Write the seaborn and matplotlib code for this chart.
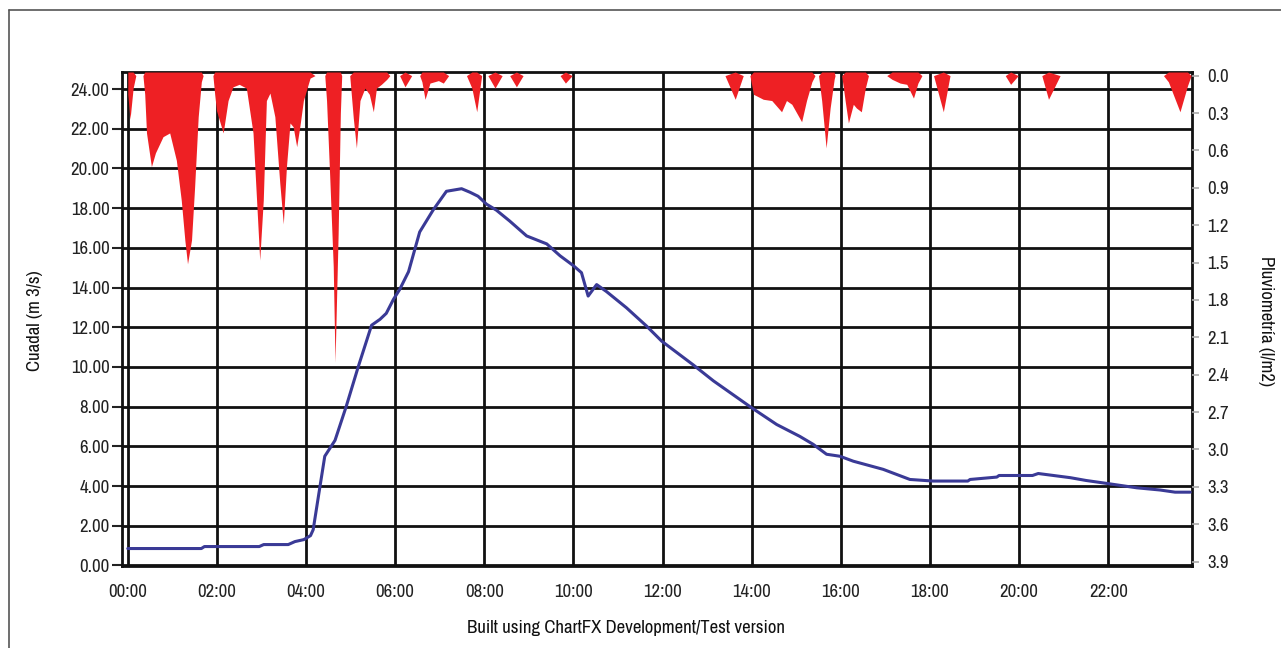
import numpy as np
import pandas as pd
import matplotlib
matplotlib.use("Agg")
import matplotlib.pyplot as plt
from matplotlib.lines import Line2D
from matplotlib import font_manager as fm
import seaborn as sns

# ---------------- data ----------------
flow_hours = [0.0, 1.65, 1.72, 2.95, 3.05, 3.6, 3.75, 3.95, 4.1, 4.16, 4.3, 4.42,
              4.65, 4.9, 5.17, 5.47, 5.66, 5.8, 5.96, 6.1, 6.3, 6.55, 6.85, 7.15,
              7.49, 7.68, 7.86, 8.05, 8.27, 8.57, 8.95, 9.4, 9.7, 10.0, 10.18,
              10.25, 10.33, 10.52, 10.74, 11.19, 11.64, 11.98, 12.69, 13.14,
              14.0, 14.56, 15.08, 15.38, 15.68, 15.98, 16.28, 16.95, 17.55,
              18.07, 18.85, 18.9, 19.5, 19.55, 20.3, 20.43, 21.15, 21.5, 21.97,
              22.64, 23.16, 23.5, 23.84]
flow_values = [0.85, 0.85, 0.95, 0.95, 1.05, 1.05, 1.2, 1.3, 1.5, 1.8, 3.8, 5.5,
               6.3, 8.0, 10.0, 12.1, 12.4, 12.7, 13.4, 13.9, 14.8, 16.8, 17.9,
               18.85, 18.98, 18.8, 18.6, 18.2, 17.9, 17.35, 16.6, 16.2, 15.6,
               15.1, 14.75, 14.2, 13.57, 14.15, 13.8, 12.98, 12.06, 11.3, 10.1,
               9.3, 7.94, 7.1, 6.5, 6.1, 5.6, 5.5, 5.25, 4.84, 4.33, 4.25, 4.25,
               4.33, 4.45, 4.53, 4.53, 4.63, 4.42, 4.28, 4.13, 3.91, 3.8, 3.69,
               3.69]

rain_hours = [0.00, 0.05, 0.12, 0.18, 0.34, 0.38, 0.42, 0.53, 0.62, 0.79, 0.94,
              1.09, 1.20, 1.28, 1.34, 1.43, 1.50, 1.58, 1.65, 1.69, 1.91, 1.95,
              1.99, 2.14, 2.25, 2.36, 2.50, 2.66, 2.81, 2.89, 2.96, 3.04, 3.11,
              3.19, 3.30, 3.41, 3.49, 3.56, 3.64, 3.71, 3.79, 3.86, 3.94, 4.09,
              4.20, 4.42, 4.46, 4.53, 4.61, 4.65, 4.72, 4.77, 4.80, 4.98, 5.06,
              5.13, 5.21, 5.32, 5.42, 5.51, 5.58, 5.69, 5.81, 5.88, 6.10, 6.22,
              6.37, 6.55, 6.60, 6.67, 6.78, 6.97, 7.08, 7.20, 7.60, 7.72, 7.83,
              7.94, 8.08, 8.24, 8.40, 8.57, 8.72, 8.87, 9.70, 9.82, 9.97, 13.40,
              13.63, 13.81, 13.96, 14.04, 14.26, 14.45, 14.67, 14.78, 14.90,
              15.12, 15.23, 15.35, 15.42, 15.50, 15.57, 15.67, 15.76, 15.85,
              15.87, 16.02, 16.10, 16.17, 16.28, 16.35, 16.46, 16.55, 16.62,
              17.03, 17.15, 17.33, 17.48, 17.63, 17.73, 17.82, 18.08, 18.30,
              18.45, 19.69, 19.81, 19.98, 20.51, 20.66, 20.92, 23.24, 23.35,
              23.61, 23.78, 23.86]
rain_values = [0.15, 0.35, 0.10, 0.0, 0.0, 0.15, 0.46, 0.73, 0.62, 0.49, 0.46,
               0.68, 1.0, 1.32, 1.51, 1.32, 0.89, 0.33, 0.05, 0.0, 0.0, 0.15,
               0.28, 0.46, 0.2, 0.09, 0.07, 0.1, 0.46, 1.0, 1.48, 1.0, 0.2,
               0.14, 0.33, 0.86, 1.19, 0.73, 0.38, 0.41, 0.57, 0.41, 0.2, 0.02,
               0.0, 0.0, 0.2, 0.8, 1.53, 2.30, 1.27, 0.3, 0.0, 0.0, 0.34,
               0.58, 0.2, 0.1, 0.15, 0.29, 0.1, 0.07, 0.03, 0.0, 0.0, 0.09,
               0.0, 0.0, 0.05, 0.19, 0.06, 0.04, 0.06, 0.0, 0.0, 0.1, 0.29,
               0.0, 0.0, 0.1, 0.0, 0.0, 0.09, 0.0, 0.0, 0.06, 0.0, 0.0,
               0.19, 0.0, 0.0, 0.15, 0.19, 0.2, 0.29, 0.2, 0.23,
               0.37, 0.2, 0.05, 0.0, 0.0, 0.2, 0.58, 0.26, 0.03,
               0.0, 0.0, 0.21, 0.38, 0.23, 0.26, 0.29, 0.1, 0.0,
               0.0, 0.03, 0.06, 0.07, 0.18, 0.06, 0.0, 0.0, 0.29,
               0.0, 0.0, 0.07, 0.0, 0.0, 0.19, 0.0, 0.0, 0.05,
               0.29, 0.08, 0.0]

x_ticks = [0, 2, 4, 6, 8, 10, 12, 14, 16, 18, 20, 22]
x_labels = ["00:00", "02:00", "04:00", "06:00", "08:00", "10:00", "12:00",
            "14:00", "16:00", "18:00", "20:00", "22:00"]
left_ticks = [0, 2, 4, 6, 8, 10, 12, 14, 16, 18, 20, 22, 24]
right_ticks = [0.0, 0.3, 0.6, 0.9, 1.2, 1.5, 1.8, 2.1, 2.4, 2.7, 3.0, 3.3, 3.6, 3.9]

# ---------------- style ----------------
sns.set_theme(style="white")

entries = fm.fontManager.ttflist
names = {f.name for f in entries}
if "Archivo Narrow" in names:
    plt.rcParams['font.family'] = ['Archivo Narrow', 'DejaVu Sans']
    plt.rcParams['font.style'] = 'normal'
    FS = 13.5
elif "Liberation Sans Narrow" in names:
    plt.rcParams['font.family'] = ['Liberation Sans Narrow', 'DejaVu Sans']
    FS = 12.5
else:
    plt.rcParams['font.family'] = ['DejaVu Sans']
    plt.rcParams['font.stretch'] = 'condensed'
    FS = 11

fig = plt.figure(figsize=(12.81, 6.48), dpi=100)
ax = fig.add_axes([122 / 1281, 1 - 566 / 648, (1192 - 122) / 1281, (566 - 72) / 648])

flow_df = pd.DataFrame({"hora": flow_hours, "caudal": flow_values})
sns.lineplot(data=flow_df, x="hora", y="caudal", ax=ax, color="#3a3a96",
             linewidth=2.2, zorder=3)

ax.set_xlim(-0.13, 23.88)
ax.set_ylim(-0.03, 24.86)
ax.set_xticks(x_ticks)
ax.set_xticklabels(x_labels)
ax.set_yticks(left_ticks)
ax.set_yticklabels([f"{v:.2f}" for v in left_ticks])
ax.grid(True, color="#111111", linewidth=2.0, zorder=0)
ax.set_axisbelow(True)
ax.set_xlabel("")
ax.set_ylabel("")
ax.tick_params(axis="both", which="both", labelsize=FS, colors="#222222",
               length=7, width=1.5, direction="out", pad=2)
ax.tick_params(axis="x", pad=6)
for s in ax.spines.values():
    s.set_visible(True)
    s.set_color("#111111")
    s.set_linewidth(2.0)

ax2 = ax.twinx()
TOP = -0.029
ax2.set_ylim(3.935, TOP)
rain_arr = np.array(rain_values)
rain_base = np.where(rain_arr > 0, TOP, 0.0)
ax2.fill_between(rain_hours, rain_base, rain_arr, color="#ee2024",
                 linewidth=0, zorder=2)
ax2.set_yticks(right_ticks)
ax2.set_yticklabels([f"{v:.1f}" for v in right_ticks])
ax2.tick_params(axis="y", labelsize=FS, colors="#222222", length=5, width=1.2,
                pad=6)
ax2.tick_params(axis="y", color="#aaaaaa")
ax2.grid(False)
for s in ax2.spines.values():
    s.set_visible(False)

# axis titles
fig.text(35 / 1281, 1 - 321 / 648, "Cuadal (m 3/s)", rotation=90,
         ha="center", va="center", fontsize=FS, color="#111111")
fig.text(1266 / 1281, 1 - 321 / 648, "Pluviometría (l/m2)", rotation=270,
         ha="center", va="center", fontsize=FS, color="#111111")
fig.text(626 / 1281, 1 - 628 / 648, "Built using ChartFX Development/Test version",
         ha="center", va="center", fontsize=FS, color="#111111")

# outer frame of the chart control
fig.add_artist(Line2D([9 / 1281, 9 / 1281], [-0.05, 1 - 9.5 / 648],
                      transform=fig.transFigure, color="#555555", linewidth=1.2))
fig.add_artist(Line2D([9 / 1281, 1.05], [1 - 9.5 / 648, 1 - 9.5 / 648],
                      transform=fig.transFigure, color="#555555", linewidth=1.2))

fig.savefig("out.png", dpi=100, facecolor="white")
